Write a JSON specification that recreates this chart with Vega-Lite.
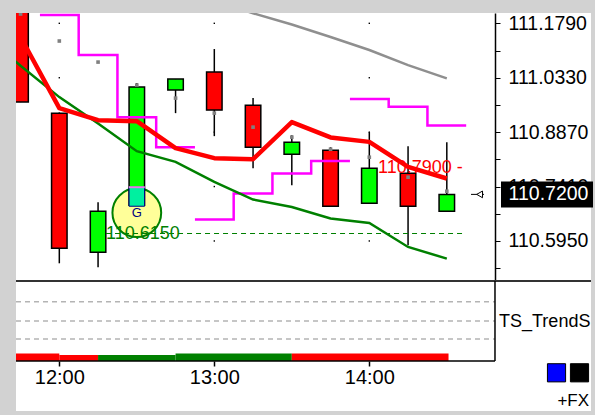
{
  "$schema": "https://vega.github.io/schema/vega-lite/v6.json",
  "background": "#d2d2d2",
  "padding": {"left": 15, "top": 13, "right": 5, "bottom": 4},
  "autosize": {"type": "pad"},
  "bounds": "flush",
  "spacing": 0,
  "config": {"view": {"stroke": null, "fill": "#ffffff"}, "font": "Liberation Sans", "axis": {"grid": false}},
  "resolve": {"scale": {"x": "independent", "y": "independent", "color": "independent"}},
  "datasets": {
    "candles": [
      {"t": "2024-01-02T11:45:00", "o": 111.25, "h": 111.26, "l": 110.9676, "c": 110.9676, "dir": "down"},
      {"t": "2024-01-02T12:00:00", "o": 110.938, "h": 110.94, "l": 110.5351, "c": 110.5754, "dir": "down"},
      {"t": "2024-01-02T12:15:00", "o": 110.5646, "h": 110.699, "l": 110.5243, "c": 110.6748, "dir": "up"},
      {"t": "2024-01-02T12:30:00", "o": 110.6909, "h": 111.019, "l": 110.6909, "c": 111.0079, "dir": "up"},
      {"t": "2024-01-02T12:45:00", "o": 110.9998, "h": 111.0294, "l": 110.938, "c": 111.0294, "dir": "up"},
      {"t": "2024-01-02T13:00:00", "o": 111.0482, "h": 111.11, "l": 110.8763, "c": 110.9461, "dir": "down"},
      {"t": "2024-01-02T13:15:00", "o": 110.9595, "h": 110.9783, "l": 110.7903, "c": 110.8467, "dir": "down"},
      {"t": "2024-01-02T13:30:00", "o": 110.8279, "h": 110.879, "l": 110.7446, "c": 110.8601, "dir": "up"},
      {"t": "2024-01-02T13:45:00", "o": 110.8386, "h": 110.8467, "l": 110.6882, "c": 110.6882, "dir": "down"},
      {"t": "2024-01-02T14:00:00", "o": 110.6963, "h": 110.887, "l": 110.6963, "c": 110.7903, "dir": "up"},
      {"t": "2024-01-02T14:15:00", "o": 110.7769, "h": 110.8494, "l": 110.5834, "c": 110.6882, "dir": "down"},
      {"t": "2024-01-02T14:30:00", "o": 110.6748, "h": 110.8601, "l": 110.6748, "c": 110.72, "dir": "up"}
    ],
    "ind": [
      {"t": "2024-01-02T11:30:00", "slow": 111.1497},
      {"t": "2024-01-02T11:45:00", "fast": 111.1422, "slow": 111.0654, "dot": 111.204},
      {"t": "2024-01-02T12:00:00", "fast": 110.9515, "slow": 110.981, "dot": 111.1315},
      {"t": "2024-01-02T12:15:00", "fast": 110.9192, "slow": 110.9104, "dot": 111.075},
      {"t": "2024-01-02T12:30:00", "fast": 110.9165, "slow": 110.836, "dot": 111.0133},
      {"t": "2024-01-02T12:45:00", "fast": 110.844, "slow": 110.8072, "dot": 110.9783},
      {"t": "2024-01-02T13:00:00", "fast": 110.8172, "slow": 110.7535, "upper": 111.2402, "dot": 110.938},
      {"t": "2024-01-02T13:15:00", "fast": 110.8145, "slow": 110.7062, "upper": 111.2059, "dot": 110.9004},
      {"t": "2024-01-02T13:30:00", "fast": 110.9139, "slow": 110.6863, "upper": 111.176, "dot": 110.8736},
      {"t": "2024-01-02T13:45:00", "fast": 110.8728, "slow": 110.6552, "upper": 111.1422, "dot": 110.8413},
      {"t": "2024-01-02T14:00:00", "fast": 110.8609, "slow": 110.6434, "upper": 111.1073, "dot": 110.8198},
      {"t": "2024-01-02T14:15:00", "fast": 110.7938, "slow": 110.5789, "upper": 111.067, "dot": 110.7661},
      {"t": "2024-01-02T14:30:00", "fast": 110.7626, "slow": 110.5477, "upper": 111.0313, "dot": 110.7285}
    ],
    "mag": [
      {"t": "2024-01-02T11:52:30", "p": 111.2013, "seg": "A"},
      {"t": "2024-01-02T12:07:30", "p": 111.0938, "seg": "A"},
      {"t": "2024-01-02T12:22:30", "p": 110.9273, "seg": "A"},
      {"t": "2024-01-02T12:37:30", "p": 110.8467, "seg": "A"},
      {"t": "2024-01-02T12:52:30", "p": 110.8467, "seg": "A"},
      {"t": "2024-01-02T12:52:30", "p": 110.6525, "seg": "B"},
      {"t": "2024-01-02T13:07:30", "p": 110.7223, "seg": "B"},
      {"t": "2024-01-02T13:22:30", "p": 110.776, "seg": "B"},
      {"t": "2024-01-02T13:37:30", "p": 110.8099, "seg": "B"},
      {"t": "2024-01-02T13:52:30", "p": 110.8099, "seg": "B"},
      {"t": "2024-01-02T13:52:30", "p": 110.9757, "seg": "C"},
      {"t": "2024-01-02T14:07:30", "p": 110.955, "seg": "C"},
      {"t": "2024-01-02T14:22:30", "p": 110.905, "seg": "C"},
      {"t": "2024-01-02T14:37:30", "p": 110.905, "seg": "C"}
    ],
    "grid": [
      {"t": "2024-01-02T12:00:00", "p": 111.179}, {"t": "2024-01-02T12:00:00", "p": 111.033}, {"t": "2024-01-02T12:00:00", "p": 110.887}, {"t": "2024-01-02T12:00:00", "p": 110.741}, {"t": "2024-01-02T12:00:00", "p": 110.595},
      {"t": "2024-01-02T13:00:00", "p": 111.179}, {"t": "2024-01-02T13:00:00", "p": 111.033}, {"t": "2024-01-02T13:00:00", "p": 110.887}, {"t": "2024-01-02T13:00:00", "p": 110.741}, {"t": "2024-01-02T13:00:00", "p": 110.595},
      {"t": "2024-01-02T14:00:00", "p": 111.179}, {"t": "2024-01-02T14:00:00", "p": 111.033}, {"t": "2024-01-02T14:00:00", "p": 110.887}, {"t": "2024-01-02T14:00:00", "p": 110.741}, {"t": "2024-01-02T14:00:00", "p": 110.595}
    ],
    "order": [
      {"t": "2024-01-02T12:30:00", "entry": 110.7393, "fill": 110.6882, "mark": 110.6708, "glyph": 110.6694}
    ],
    "levels": [
      {"kind": "stop", "t0": "2024-01-02T12:18:05", "t1": "2024-01-02T14:36:40", "p": 110.615, "label": "110.6150"},
      {"kind": "target", "t0": "2024-01-02T14:03:22", "p": 110.79, "label": "110.7900 -"}
    ],
    "last": [
      {"t": "2024-01-02T15:08:47", "a0": "2024-01-02T14:39:22", "a1": "2024-01-02T14:44:23", "am": "2024-01-02T14:42:42", "p": 110.72, "label": "110.7200"}
    ],
    "trend": [
      {"t0": "2024-01-02T11:30:00", "t1": "2024-01-02T12:00:00", "h": 7.5, "trend": "down"},
      {"t0": "2024-01-02T12:00:00", "t1": "2024-01-02T12:15:00", "h": 6, "trend": "down"},
      {"t0": "2024-01-02T12:15:00", "t1": "2024-01-02T12:45:00", "h": 6, "trend": "up"},
      {"t0": "2024-01-02T12:45:00", "t1": "2024-01-02T13:30:00", "h": 7.5, "trend": "up"},
      {"t0": "2024-01-02T13:30:00", "t1": "2024-01-02T14:30:40", "h": 7.5, "trend": "down"}
    ],
    "lvl": [
      {"v": 59.3, "from": "2024-01-02T11:43:14", "to": "2024-01-02T14:48:39"},
      {"v": 40, "from": "2024-01-02T11:43:14", "to": "2024-01-02T14:48:39"},
      {"v": 22, "from": "2024-01-02T11:43:14", "to": "2024-01-02T14:48:39"}
    ],
    "frameLines": [
      {"part": "sep", "t0": "2024-01-02T11:43:14", "t1": "2024-01-02T15:25:49", "v0": 80, "v1": 80},
      {"part": "base", "t0": "2024-01-02T11:43:14", "t1": "2024-01-02T14:48:39", "v0": 0, "v1": 0},
      {"part": "divider", "t0": "2024-01-02T14:48:39", "t1": "2024-01-02T14:48:39", "v0": 0, "v1": 80}
    ],
    "side": [{"t": "2024-01-02T14:50:13", "v": 39.3, "label": "TS_TrendS"}],
    "keys": [
      {"t": "2024-01-02T15:12:28", "v": -11.8, "name": "blue"},
      {"t": "2024-01-02T15:21:22", "v": -11.8, "name": "black"}
    ],
    "fx": [{"t": "2024-01-02T15:25:04", "v": -39.5, "label": "+FX"}]
  },
  "vconcat": [
    {
      "width": 575,
      "height": 268,
      "layer": [
        {
          "data": {"name": "grid"},
          "mark": {"type": "point", "shape": "square", "filled": true, "size": 2, "color": "#000000", "opacity": 1},
          "encoding": {
            "x": {"field": "t", "type": "temporal", "axis": null,
                  "scale": {"domain": [{"year": 2024, "month": 1, "date": 2, "hours": 11, "minutes": 43, "seconds": 14}, {"year": 2024, "month": 1, "date": 2, "hours": 15, "minutes": 25, "seconds": 49}], "nice": false, "padding": 0}},
            "y": {"field": "p", "type": "quantitative", "title": null,
                  "scale": {"domain": [110.4876, 111.2067], "nice": false, "zero": false, "padding": 0},
                  "axis": {"orient": "right", "offset": -96, "title": null, "grid": false, "values": [111.179, 111.106, 111.033, 110.96, 110.887, 110.814, 110.741, 110.668, 110.595, 110.522], "labelExpr": "round((datum.value - 110.595) / 0.073) % 2 == 0 ? format(datum.value, '.4f') : ''", "domainColor": "#000000", "domainWidth": 1.5, "tickColor": "#000000", "tickSize": 5, "tickWidth": 1, "labelFont": "Liberation Sans", "labelFontSize": 19.5, "labelColor": "#000000", "labelPadding": 8, "labelOverlap": false, "labelFlush": false}}
          }
        },
        {
          "data": {"name": "order"},
          "mark": {"type": "point", "shape": "circle", "size": 2376, "filled": true, "fill": "#ffff99", "stroke": "#008000", "strokeWidth": 2, "opacity": 1, "fillOpacity": 1, "strokeOpacity": 1},
          "encoding": {
            "x": {"field": "t", "type": "temporal", "axis": null},
            "y": {"field": "mark", "type": "quantitative", "title": null,
                  "axis": {"orient": "right", "offset": -96, "title": null, "grid": false, "values": [111.179, 111.106, 111.033, 110.96, 110.887, 110.814, 110.741, 110.668, 110.595, 110.522], "labelExpr": "round((datum.value - 110.595) / 0.073) % 2 == 0 ? format(datum.value, '.4f') : ''", "domainColor": "#000000", "domainWidth": 1.5, "tickColor": "#000000", "tickSize": 5, "tickWidth": 1, "labelFont": "Liberation Sans", "labelFontSize": 19.5, "labelColor": "#000000", "labelPadding": 8, "labelOverlap": false, "labelFlush": false}}
          }
        },
        {
          "data": {"name": "candles"},
          "mark": {"type": "rule", "color": "#000000", "strokeWidth": 1.5, "clip": true},
          "encoding": {
            "x": {"field": "t", "type": "temporal", "axis": null},
            "y": {"field": "l", "type": "quantitative", "title": null,
                  "axis": {"orient": "right", "offset": -96, "title": null, "grid": false, "values": [111.179, 111.106, 111.033, 110.96, 110.887, 110.814, 110.741, 110.668, 110.595, 110.522], "labelExpr": "round((datum.value - 110.595) / 0.073) % 2 == 0 ? format(datum.value, '.4f') : ''", "domainColor": "#000000", "domainWidth": 1.5, "tickColor": "#000000", "tickSize": 5, "tickWidth": 1, "labelFont": "Liberation Sans", "labelFontSize": 19.5, "labelColor": "#000000", "labelPadding": 8, "labelOverlap": false, "labelFlush": false}},
            "y2": {"field": "h"}
          }
        },
        {
          "data": {"name": "candles"},
          "mark": {"type": "bar", "width": 15.5, "stroke": "#000000", "strokeWidth": 1.5, "clip": true},
          "encoding": {
            "x": {"field": "t", "type": "temporal", "axis": null},
            "y": {"field": "o", "type": "quantitative", "title": null,
                  "axis": {"orient": "right", "offset": -96, "title": null, "grid": false, "values": [111.179, 111.106, 111.033, 110.96, 110.887, 110.814, 110.741, 110.668, 110.595, 110.522], "labelExpr": "round((datum.value - 110.595) / 0.073) % 2 == 0 ? format(datum.value, '.4f') : ''", "domainColor": "#000000", "domainWidth": 1.5, "tickColor": "#000000", "tickSize": 5, "tickWidth": 1, "labelFont": "Liberation Sans", "labelFontSize": 19.5, "labelColor": "#000000", "labelPadding": 8, "labelOverlap": false, "labelFlush": false}},
            "y2": {"field": "c"},
            "color": {"field": "dir", "type": "nominal", "legend": null,
                      "scale": {"domain": ["up", "down"], "range": ["#00ff00", "#ff0000"]}}
          }
        },
        {
          "data": {"name": "order"},
          "mark": {"type": "bar", "width": 15.5, "fill": "#00f0a0", "stroke": "#000080", "strokeWidth": 1},
          "encoding": {
            "x": {"field": "t", "type": "temporal", "axis": null},
            "y": {"field": "fill", "type": "quantitative", "title": null,
                  "axis": {"orient": "right", "offset": -96, "title": null, "grid": false, "values": [111.179, 111.106, 111.033, 110.96, 110.887, 110.814, 110.741, 110.668, 110.595, 110.522], "labelExpr": "round((datum.value - 110.595) / 0.073) % 2 == 0 ? format(datum.value, '.4f') : ''", "domainColor": "#000000", "domainWidth": 1.5, "tickColor": "#000000", "tickSize": 5, "tickWidth": 1, "labelFont": "Liberation Sans", "labelFontSize": 19.5, "labelColor": "#000000", "labelPadding": 8, "labelOverlap": false, "labelFlush": false}},
            "y2": {"field": "entry"}
          }
        },
        {
          "data": {"name": "order"},
          "mark": {"type": "tick", "orient": "horizontal", "size": 16, "thickness": 2, "color": "#e87de8", "opacity": 1},
          "encoding": {
            "x": {"field": "t", "type": "temporal", "axis": null},
            "y": {"field": "entry", "type": "quantitative", "title": null,
                  "axis": {"orient": "right", "offset": -96, "title": null, "grid": false, "values": [111.179, 111.106, 111.033, 110.96, 110.887, 110.814, 110.741, 110.668, 110.595, 110.522], "labelExpr": "round((datum.value - 110.595) / 0.073) % 2 == 0 ? format(datum.value, '.4f') : ''", "domainColor": "#000000", "domainWidth": 1.5, "tickColor": "#000000", "tickSize": 5, "tickWidth": 1, "labelFont": "Liberation Sans", "labelFontSize": 19.5, "labelColor": "#000000", "labelPadding": 8, "labelOverlap": false, "labelFlush": false}}
          }
        },
        {
          "data": {"name": "mag"},
          "mark": {"type": "line", "interpolate": "step-after", "color": "#ff00ff", "strokeWidth": 2.5, "clip": true},
          "encoding": {
            "x": {"field": "t", "type": "temporal", "axis": null},
            "y": {"field": "p", "type": "quantitative", "title": null,
                  "axis": {"orient": "right", "offset": -96, "title": null, "grid": false, "values": [111.179, 111.106, 111.033, 110.96, 110.887, 110.814, 110.741, 110.668, 110.595, 110.522], "labelExpr": "round((datum.value - 110.595) / 0.073) % 2 == 0 ? format(datum.value, '.4f') : ''", "domainColor": "#000000", "domainWidth": 1.5, "tickColor": "#000000", "tickSize": 5, "tickWidth": 1, "labelFont": "Liberation Sans", "labelFontSize": 19.5, "labelColor": "#000000", "labelPadding": 8, "labelOverlap": false, "labelFlush": false}},
            "detail": {"field": "seg"}
          }
        },
        {
          "data": {"name": "ind"},
          "mark": {"type": "line", "color": "#8f8f8f", "strokeWidth": 2.5, "clip": true},
          "encoding": {
            "x": {"field": "t", "type": "temporal", "axis": null},
            "y": {"field": "upper", "type": "quantitative", "title": null,
                  "axis": {"orient": "right", "offset": -96, "title": null, "grid": false, "values": [111.179, 111.106, 111.033, 110.96, 110.887, 110.814, 110.741, 110.668, 110.595, 110.522], "labelExpr": "round((datum.value - 110.595) / 0.073) % 2 == 0 ? format(datum.value, '.4f') : ''", "domainColor": "#000000", "domainWidth": 1.5, "tickColor": "#000000", "tickSize": 5, "tickWidth": 1, "labelFont": "Liberation Sans", "labelFontSize": 19.5, "labelColor": "#000000", "labelPadding": 8, "labelOverlap": false, "labelFlush": false}}
          }
        },
        {
          "data": {"name": "ind"},
          "mark": {"type": "line", "color": "#008000", "strokeWidth": 2.5, "clip": true},
          "encoding": {
            "x": {"field": "t", "type": "temporal", "axis": null},
            "y": {"field": "slow", "type": "quantitative", "title": null,
                  "axis": {"orient": "right", "offset": -96, "title": null, "grid": false, "values": [111.179, 111.106, 111.033, 110.96, 110.887, 110.814, 110.741, 110.668, 110.595, 110.522], "labelExpr": "round((datum.value - 110.595) / 0.073) % 2 == 0 ? format(datum.value, '.4f') : ''", "domainColor": "#000000", "domainWidth": 1.5, "tickColor": "#000000", "tickSize": 5, "tickWidth": 1, "labelFont": "Liberation Sans", "labelFontSize": 19.5, "labelColor": "#000000", "labelPadding": 8, "labelOverlap": false, "labelFlush": false}}
          }
        },
        {
          "data": {"name": "ind"},
          "mark": {"type": "line", "color": "#ff0000", "strokeWidth": 4.5, "strokeJoin": "round", "clip": true},
          "encoding": {
            "x": {"field": "t", "type": "temporal", "axis": null},
            "y": {"field": "fast", "type": "quantitative", "title": null,
                  "axis": {"orient": "right", "offset": -96, "title": null, "grid": false, "values": [111.179, 111.106, 111.033, 110.96, 110.887, 110.814, 110.741, 110.668, 110.595, 110.522], "labelExpr": "round((datum.value - 110.595) / 0.073) % 2 == 0 ? format(datum.value, '.4f') : ''", "domainColor": "#000000", "domainWidth": 1.5, "tickColor": "#000000", "tickSize": 5, "tickWidth": 1, "labelFont": "Liberation Sans", "labelFontSize": 19.5, "labelColor": "#000000", "labelPadding": 8, "labelOverlap": false, "labelFlush": false}}
          }
        },
        {
          "data": {"name": "ind"},
          "transform": [{"filter": {"field": "t", "oneOf": ["2024-01-02T13:15:00", "2024-01-02T13:30:00"]}}],
          "mark": {"type": "line", "color": "#008000", "strokeWidth": 4.5, "clip": true},
          "encoding": {
            "x": {"field": "t", "type": "temporal", "axis": null},
            "y": {"field": "fast", "type": "quantitative", "title": null,
                  "axis": {"orient": "right", "offset": -96, "title": null, "grid": false, "values": [111.179, 111.106, 111.033, 110.96, 110.887, 110.814, 110.741, 110.668, 110.595, 110.522], "labelExpr": "round((datum.value - 110.595) / 0.073) % 2 == 0 ? format(datum.value, '.4f') : ''", "domainColor": "#000000", "domainWidth": 1.5, "tickColor": "#000000", "tickSize": 5, "tickWidth": 1, "labelFont": "Liberation Sans", "labelFontSize": 19.5, "labelColor": "#000000", "labelPadding": 8, "labelOverlap": false, "labelFlush": false}}
          }
        },
        {
          "data": {"name": "ind"},
          "mark": {"type": "point", "shape": "square", "filled": true, "size": 13, "color": "#808080", "opacity": 1, "clip": true},
          "encoding": {
            "x": {"field": "t", "type": "temporal", "axis": null},
            "y": {"field": "dot", "type": "quantitative", "title": null,
                  "axis": {"orient": "right", "offset": -96, "title": null, "grid": false, "values": [111.179, 111.106, 111.033, 110.96, 110.887, 110.814, 110.741, 110.668, 110.595, 110.522], "labelExpr": "round((datum.value - 110.595) / 0.073) % 2 == 0 ? format(datum.value, '.4f') : ''", "domainColor": "#000000", "domainWidth": 1.5, "tickColor": "#000000", "tickSize": 5, "tickWidth": 1, "labelFont": "Liberation Sans", "labelFontSize": 19.5, "labelColor": "#000000", "labelPadding": 8, "labelOverlap": false, "labelFlush": false}}
          }
        },
        {
          "data": {"name": "levels"},
          "transform": [{"filter": "datum.kind == 'stop'"}],
          "mark": {"type": "rule", "color": "#008000", "strokeWidth": 1.2, "strokeDash": [5, 4]},
          "encoding": {
            "x": {"field": "t0", "type": "temporal", "axis": null},
            "x2": {"field": "t1"},
            "y": {"field": "p", "type": "quantitative", "title": null,
                  "axis": {"orient": "right", "offset": -96, "title": null, "grid": false, "values": [111.179, 111.106, 111.033, 110.96, 110.887, 110.814, 110.741, 110.668, 110.595, 110.522], "labelExpr": "round((datum.value - 110.595) / 0.073) % 2 == 0 ? format(datum.value, '.4f') : ''", "domainColor": "#000000", "domainWidth": 1.5, "tickColor": "#000000", "tickSize": 5, "tickWidth": 1, "labelFont": "Liberation Sans", "labelFontSize": 19.5, "labelColor": "#000000", "labelPadding": 8, "labelOverlap": false, "labelFlush": false}}
          }
        },
        {
          "data": {"name": "levels"},
          "transform": [{"filter": "datum.kind == 'stop'"}],
          "mark": {"type": "text", "align": "left", "baseline": "middle", "font": "Liberation Sans", "fontSize": 18, "color": "#008000"},
          "encoding": {
            "x": {"field": "t0", "type": "temporal", "axis": null},
            "y": {"field": "p", "type": "quantitative", "title": null,
                  "axis": {"orient": "right", "offset": -96, "title": null, "grid": false, "values": [111.179, 111.106, 111.033, 110.96, 110.887, 110.814, 110.741, 110.668, 110.595, 110.522], "labelExpr": "round((datum.value - 110.595) / 0.073) % 2 == 0 ? format(datum.value, '.4f') : ''", "domainColor": "#000000", "domainWidth": 1.5, "tickColor": "#000000", "tickSize": 5, "tickWidth": 1, "labelFont": "Liberation Sans", "labelFontSize": 19.5, "labelColor": "#000000", "labelPadding": 8, "labelOverlap": false, "labelFlush": false}},
            "text": {"field": "label"}
          }
        },
        {
          "data": {"name": "levels"},
          "transform": [{"filter": "datum.kind == 'target'"}],
          "mark": {"type": "text", "align": "left", "baseline": "middle", "font": "Liberation Sans", "fontSize": 18, "color": "#ff0000"},
          "encoding": {
            "x": {"field": "t0", "type": "temporal", "axis": null},
            "y": {"field": "p", "type": "quantitative", "title": null,
                  "axis": {"orient": "right", "offset": -96, "title": null, "grid": false, "values": [111.179, 111.106, 111.033, 110.96, 110.887, 110.814, 110.741, 110.668, 110.595, 110.522], "labelExpr": "round((datum.value - 110.595) / 0.073) % 2 == 0 ? format(datum.value, '.4f') : ''", "domainColor": "#000000", "domainWidth": 1.5, "tickColor": "#000000", "tickSize": 5, "tickWidth": 1, "labelFont": "Liberation Sans", "labelFontSize": 19.5, "labelColor": "#000000", "labelPadding": 8, "labelOverlap": false, "labelFlush": false}},
            "text": {"field": "label"}
          }
        },
        {
          "data": {"name": "order"},
          "mark": {"type": "text", "text": "G", "align": "center", "baseline": "middle", "font": "Liberation Sans", "fontSize": 13, "color": "#000080"},
          "encoding": {
            "x": {"field": "t", "type": "temporal", "axis": null},
            "y": {"field": "glyph", "type": "quantitative", "title": null,
                  "axis": {"orient": "right", "offset": -96, "title": null, "grid": false, "values": [111.179, 111.106, 111.033, 110.96, 110.887, 110.814, 110.741, 110.668, 110.595, 110.522], "labelExpr": "round((datum.value - 110.595) / 0.073) % 2 == 0 ? format(datum.value, '.4f') : ''", "domainColor": "#000000", "domainWidth": 1.5, "tickColor": "#000000", "tickSize": 5, "tickWidth": 1, "labelFont": "Liberation Sans", "labelFontSize": 19.5, "labelColor": "#000000", "labelPadding": 8, "labelOverlap": false, "labelFlush": false}}
          }
        },
        {
          "data": {"name": "last"},
          "mark": {"type": "rule", "color": "#000000", "strokeWidth": 1},
          "encoding": {
            "x": {"field": "a0", "type": "temporal", "axis": null},
            "x2": {"field": "a1"},
            "y": {"field": "p", "type": "quantitative", "title": null,
                  "axis": {"orient": "right", "offset": -96, "title": null, "grid": false, "values": [111.179, 111.106, 111.033, 110.96, 110.887, 110.814, 110.741, 110.668, 110.595, 110.522], "labelExpr": "round((datum.value - 110.595) / 0.073) % 2 == 0 ? format(datum.value, '.4f') : ''", "domainColor": "#000000", "domainWidth": 1.5, "tickColor": "#000000", "tickSize": 5, "tickWidth": 1, "labelFont": "Liberation Sans", "labelFontSize": 19.5, "labelColor": "#000000", "labelPadding": 8, "labelOverlap": false, "labelFlush": false}}
          }
        },
        {
          "data": {"name": "last"},
          "mark": {"type": "point", "shape": "triangle-left", "size": 45, "filled": true, "fill": "#ffffff", "stroke": "#000000", "strokeWidth": 1, "opacity": 1},
          "encoding": {
            "x": {"field": "am", "type": "temporal", "axis": null},
            "y": {"field": "p", "type": "quantitative", "title": null,
                  "axis": {"orient": "right", "offset": -96, "title": null, "grid": false, "values": [111.179, 111.106, 111.033, 110.96, 110.887, 110.814, 110.741, 110.668, 110.595, 110.522], "labelExpr": "round((datum.value - 110.595) / 0.073) % 2 == 0 ? format(datum.value, '.4f') : ''", "domainColor": "#000000", "domainWidth": 1.5, "tickColor": "#000000", "tickSize": 5, "tickWidth": 1, "labelFont": "Liberation Sans", "labelFontSize": 19.5, "labelColor": "#000000", "labelPadding": 8, "labelOverlap": false, "labelFlush": false}}
          }
        },
        {
          "data": {"name": "last"},
          "mark": {"type": "tick", "orient": "horizontal", "size": 92, "thickness": 26, "color": "#000000", "opacity": 1},
          "encoding": {
            "x": {"field": "t", "type": "temporal", "axis": null},
            "y": {"field": "p", "type": "quantitative", "title": null,
                  "axis": {"orient": "right", "offset": -96, "title": null, "grid": false, "values": [111.179, 111.106, 111.033, 110.96, 110.887, 110.814, 110.741, 110.668, 110.595, 110.522], "labelExpr": "round((datum.value - 110.595) / 0.073) % 2 == 0 ? format(datum.value, '.4f') : ''", "domainColor": "#000000", "domainWidth": 1.5, "tickColor": "#000000", "tickSize": 5, "tickWidth": 1, "labelFont": "Liberation Sans", "labelFontSize": 19.5, "labelColor": "#000000", "labelPadding": 8, "labelOverlap": false, "labelFlush": false}}
          }
        },
        {
          "data": {"name": "last"},
          "mark": {"type": "text", "align": "center", "baseline": "middle", "dx": 1.5, "font": "Liberation Sans", "fontSize": 19.5, "color": "#ffffff"},
          "encoding": {
            "x": {"field": "t", "type": "temporal", "axis": null},
            "y": {"field": "p", "type": "quantitative", "title": null,
                  "axis": {"orient": "right", "offset": -96, "title": null, "grid": false, "values": [111.179, 111.106, 111.033, 110.96, 110.887, 110.814, 110.741, 110.668, 110.595, 110.522], "labelExpr": "round((datum.value - 110.595) / 0.073) % 2 == 0 ? format(datum.value, '.4f') : ''", "domainColor": "#000000", "domainWidth": 1.5, "tickColor": "#000000", "tickSize": 5, "tickWidth": 1, "labelFont": "Liberation Sans", "labelFontSize": 19.5, "labelColor": "#000000", "labelPadding": 8, "labelOverlap": false, "labelFlush": false}},
            "text": {"field": "label"}
          }
        }
      ]
    },
    {
      "width": 575,
      "height": 130,
      "layer": [
        {
          "data": {"name": "lvl"},
          "mark": {"type": "rule", "color": "#b4b4b4", "strokeWidth": 1.5, "strokeDash": [5, 4]},
          "encoding": {
            "x": {"field": "from", "type": "temporal", "title": null,
                  "scale": {"domain": [{"year": 2024, "month": 1, "date": 2, "hours": 11, "minutes": 43, "seconds": 14}, {"year": 2024, "month": 1, "date": 2, "hours": 15, "minutes": 25, "seconds": 49}], "nice": false, "padding": 0},
                  "axis": {"orient": "bottom", "offset": -50, "title": null, "grid": false, "domain": false, "format": "%H:%M",
                           "values": [{"year": 2024, "month": 1, "date": 2, "hours": 12, "minutes": 0}, {"year": 2024, "month": 1, "date": 2, "hours": 13, "minutes": 0}, {"year": 2024, "month": 1, "date": 2, "hours": 14, "minutes": 0}],
                           "tickColor": "#000000", "tickSize": 5, "tickWidth": 1.5,
                           "labelFont": "Liberation Sans", "labelFontSize": 20, "labelColor": "#000000", "labelPadding": 1.5,
                           "labelFlush": false, "labelOverlap": false}},
            "x2": {"field": "to"},
            "y": {"field": "v", "type": "quantitative", "axis": null,
                  "scale": {"domain": [-50, 80], "nice": false, "zero": false, "padding": 0}}
          }
        },
        {
          "data": {"name": "trend"},
          "mark": {"type": "rect", "clip": true},
          "encoding": {
            "x": {"field": "t0", "type": "temporal", "title": null},
            "x2": {"field": "t1"},
            "y": {"field": "h", "type": "quantitative", "axis": null},
            "y2": {"datum": 0},
            "color": {"field": "trend", "type": "nominal", "legend": null,
                      "scale": {"domain": ["down", "up"], "range": ["#ff0000", "#008000"]}}
          }
        },
        {
          "data": {"name": "frameLines"},
          "transform": [{"filter": "datum.part == 'sep'"}],
          "mark": {"type": "rule", "color": "#333333", "strokeWidth": 2},
          "encoding": {
            "x": {"field": "t0", "type": "temporal", "title": null},
            "x2": {"field": "t1"},
            "y": {"field": "v0", "type": "quantitative", "axis": null},
            "y2": {"field": "v1"}
          }
        },
        {
          "data": {"name": "frameLines"},
          "transform": [{"filter": "datum.part != 'sep'"}],
          "mark": {"type": "rule", "color": "#000000", "strokeWidth": 1.5},
          "encoding": {
            "x": {"field": "t0", "type": "temporal", "title": null},
            "x2": {"field": "t1"},
            "y": {"field": "v0", "type": "quantitative", "axis": null},
            "y2": {"field": "v1"}
          }
        },
        {
          "data": {"name": "side"},
          "mark": {"type": "text", "align": "left", "baseline": "middle", "font": "Liberation Sans", "fontSize": 18, "color": "#000000", "clip": true},
          "encoding": {
            "x": {"field": "t", "type": "temporal", "title": null},
            "y": {"field": "v", "type": "quantitative", "axis": null},
            "text": {"field": "label"}
          }
        },
        {
          "data": {"name": "keys"},
          "mark": {"type": "point", "shape": "square", "size": 330, "filled": true, "stroke": "#000000", "strokeWidth": 1, "opacity": 1},
          "encoding": {
            "x": {"field": "t", "type": "temporal", "title": null},
            "y": {"field": "v", "type": "quantitative", "axis": null},
            "fill": {"field": "name", "type": "nominal", "legend": null,
                     "scale": {"domain": ["blue", "black"], "range": ["#0000ff", "#000000"]}}
          }
        },
        {
          "data": {"name": "fx"},
          "mark": {"type": "text", "align": "right", "baseline": "middle", "font": "Liberation Sans", "fontSize": 17, "color": "#000000"},
          "encoding": {
            "x": {"field": "t", "type": "temporal", "title": null},
            "y": {"field": "v", "type": "quantitative", "axis": null},
            "text": {"field": "label"}
          }
        }
      ]
    }
  ]
}
